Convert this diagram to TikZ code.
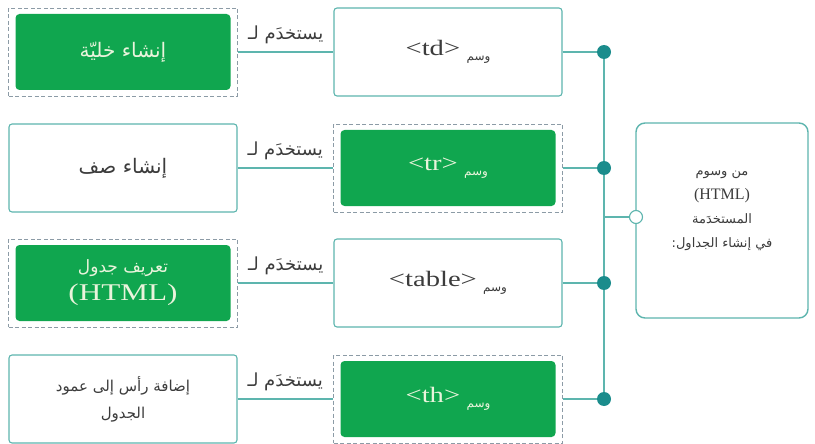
\documentclass[tikz,border=0pt]{standalone}
\usepackage{fontspec}
\setmainfont{Liberation Serif}
\newfontfamily\arabicfont[Script=Arabic]{DejaVu Sans}
\newfontfamily\tagfont[FakeStretch=1.3]{Liberation Serif}
\TeXXeTstate=1
\usetikzlibrary{backgrounds}

\definecolor{boxline}{HTML}{5DB5AE}
\definecolor{jointteal}{HTML}{1B8C8C}
\definecolor{boxgreen}{HTML}{10A64F}
\definecolor{dashgray}{HTML}{8C9BA6}
\definecolor{inkgray}{HTML}{3C3C3C}
\definecolor{greenink}{HTML}{EAF4DC}

\newcommand{\artext}{\arabicfont\fontsize{20}{26}\selectfont}
\newcommand{\tagword}[1]{\beginR\raisebox{-5pt}{\arabicfont\fontsize{12}{14}\selectfont وسم}\ \beginL{\tagfont\fontsize{22}{24}\selectfont #1}\endL\endR}

\tikzset{
  plainbox/.style={draw=boxline, line width=1.1pt, rounded corners=3pt, fill=white,
    minimum width=228pt, minimum height=88pt, inner sep=0pt, align=center, text=inkgray,
    font=\artext},
  greenbox/.style={draw=dashgray, dash pattern=on 4pt off 2.5pt, line width=0.8pt,
    minimum width=229pt, minimum height=88pt, inner sep=0pt, align=center, text=greenink,
    font=\artext,
    path picture={\fill[boxgreen, rounded corners=4pt]
      ([shift={(7pt,-6pt)}]path picture bounding box.north west) rectangle
      ([shift={(-7pt,6pt)}]path picture bounding box.south east);}},
  joint/.style={circle, fill=jointteal, minimum size=14pt, inner sep=0pt},
  hub/.style={circle, draw=boxline, fill=white, line width=1.1pt, minimum size=13pt, inner sep=0pt},
  link/.style={draw=boxline, line width=1.1pt},
  uselabel/.style={above=8pt, inner sep=0pt, text=inkgray, font=\arabicfont\fontsize{18}{20}\selectfont},
}

\begin{document}
\begin{tikzpicture}[x=1pt, y=-1pt]
    \useasboundingbox (0,0) rectangle (815,444);

    % first row: td
    \node [greenbox] (cell) at (123,52) {\beginR إنشاء خليّة\endR};
    \node [plainbox] (td) at (448,52) {\tagword{<td>}};
    \node [joint] (jtd) at (604,52) {};

    % second row: tr
    \node [plainbox] (row) at (123,168) {\beginR إنشاء صف\endR};
    \node [greenbox] (tr) at (448,168) {\tagword{<tr>}};
    \node [joint] (jtr) at (604,168) {};

    % third row: table
    \node [greenbox, font=\arabicfont\fontsize{17}{26}\selectfont] (tabledef) at (123,283)
      {\beginR تعريف جدول\endR\\[2pt]
      {\tagfont\fontsize{24}{26}\selectfont (HTML)}};
    \node [plainbox] (table) at (448,283) {\tagword{<table>}};
    \node [joint] (jtable) at (604,283) {};

    % fourth row: th
    \node [plainbox, font=\arabicfont\fontsize{15}{27}\selectfont] (header) at (123,399)
      {\beginR إضافة رأس إلى عمود\endR\\ \beginR الجدول\endR};
    \node [greenbox] (th) at (448,399) {\tagword{<th>}};
    \node [joint] (jth) at (604,399) {};

    % the topic on the right
    \node [draw=boxline, line width=1.4pt, rounded corners=9pt, fill=white,
      minimum width=172pt, minimum height=195pt] (topic) at (722,220.5) {};
    \node [align=center, text=inkgray, inner sep=0pt,
      font=\arabicfont\fontsize{13}{24}\selectfont] (topictext) at (722,211)
      {\beginR من وسوم\endR\\
       {\rmfamily\fontsize{16}{24}\selectfont (HTML)}\\
       \beginR المستخدَمة\endR\\
       \beginR في إنشاء الجداول:\endR};
    \node [hub] (hub) at (636,217) {};
    \coordinate (fork) at (604,217);

    \begin{scope}[on background layer]
      \draw [link] (cell.east) -- node [uselabel] {\beginR يستخدَم لـ\endR} (td.west);
      \draw [link] (row.east) -- node [uselabel] {\beginR يستخدَم لـ\endR} (tr.west);
      \draw [link] (tabledef.east) -- node [uselabel] {\beginR يستخدَم لـ\endR} (table.west);
      \draw [link] (header.east) -- node [uselabel] {\beginR يستخدَم لـ\endR} (th.west);
      \foreach \t in {td, tr, table, th} {
        \draw [link] (\t.east) -- (j\t);
      }
      \draw [link] (jtd) -- (jth);
      \draw [link] (fork) -- (hub);
    \end{scope}
\end{tikzpicture}
\end{document}
